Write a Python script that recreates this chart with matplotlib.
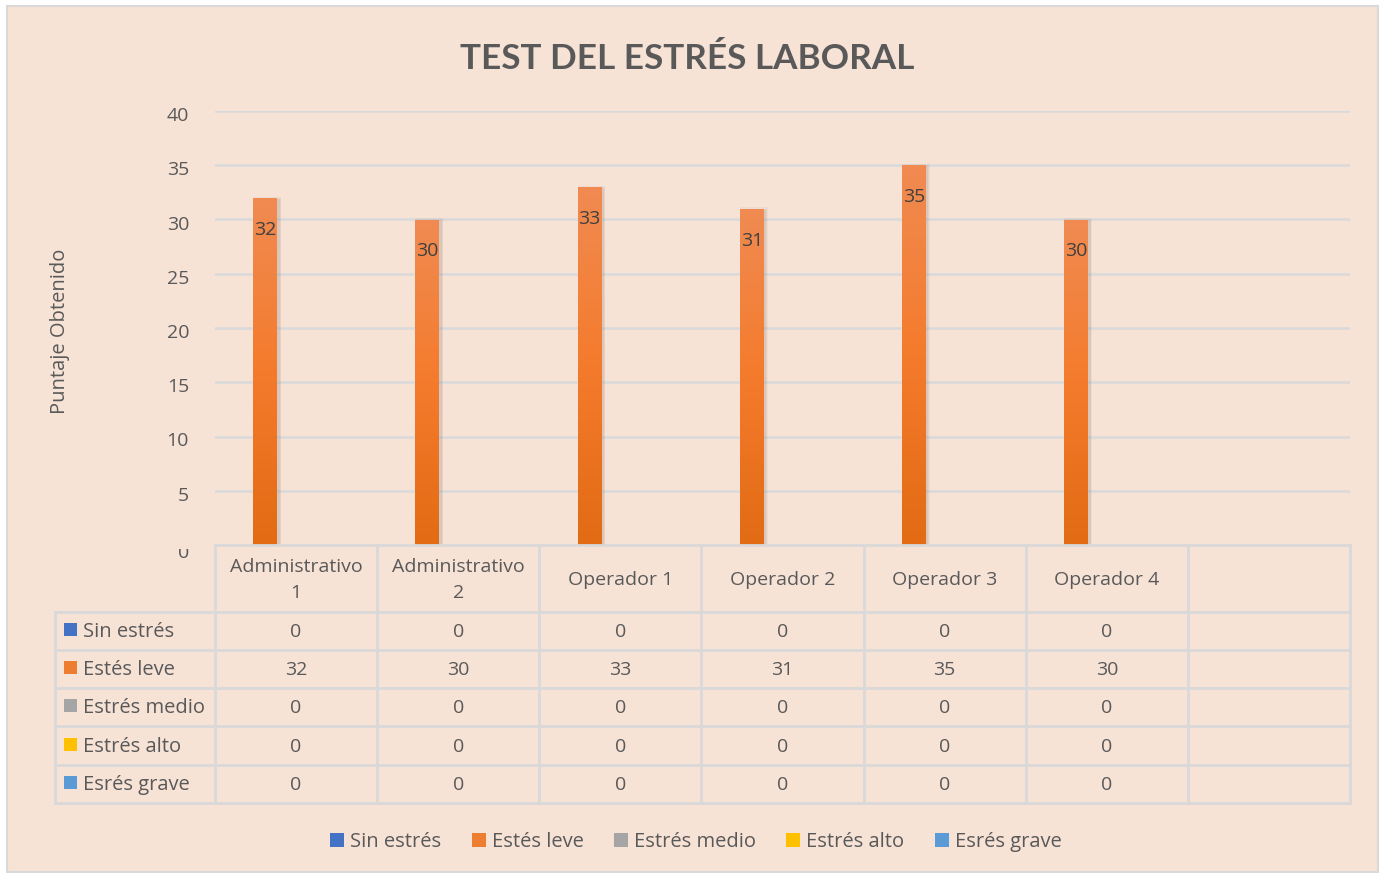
import numpy as np
import matplotlib.pyplot as plt
import matplotlib.transforms as mtransforms
from matplotlib.patches import Rectangle, Patch
from matplotlib.colors import LinearSegmentedColormap

plt.rcParams["font.family"] = ["Open Sans", "DejaVu Sans"]

# data
categories = ["Administrativo\n1", "Administrativo\n2", "Operador 1",
              "Operador 2", "Operador 3", "Operador 4", ""]
series_names = ["Sin estrés", "Estés leve", "Estrés medio", "Estrés alto", "Esrés grave"]
sin_estres = [0, 0, 0, 0, 0, 0]
estes_leve = [32, 30, 33, 31, 35, 30]
estres_medio = [0, 0, 0, 0, 0, 0]
estres_alto = [0, 0, 0, 0, 0, 0]
esres_grave = [0, 0, 0, 0, 0, 0]
all_series = [sin_estres, estes_leve, estres_medio, estres_alto, esres_grave]
series_colors = ["#4472C4", "#ED7D31", "#A5A5A5", "#FFC000", "#5B9BD5"]
yticks = [0, 5, 10, 15, 20, 25, 30, 35, 40]

BG = "#F7E2D6"
GRID = "#D9DADB"
TXT = "#595959"

W, H = 1380, 873
fig = plt.figure(figsize=(W / 100, H / 100), dpi=100)
fig.patch.set_facecolor("white")


def fx(px):
    return px / W


def fy(py):
    return 1 - py / H


# chart area background + border
fig.add_artist(Rectangle((fx(6.5), fy(871.5)), fx(1377.5) - fx(6.5), fy(5.5) - fy(871.5),
                         transform=fig.transFigure, facecolor=BG, edgecolor="#D9D9D9",
                         lw=1.5, zorder=-10))

# plot area
ax = fig.add_axes([fx(215), fy(545), fx(1350) - fx(215), fy(111) - fy(545)])
ax.set_facecolor("none")
ax.set_xlim(0, len(categories))
ax.set_ylim(0, 40)
for s in ax.spines.values():
    s.set_visible(False)
ax.set_xticks([])
ax.set_yticks([])
for v in yticks[1:]:
    ax.axhline(v, color=GRID, lw=1.8, zorder=0)

lbl_tr = mtransforms.offset_copy(ax.get_yaxis_transform(), fig=fig, x=-26, y=-5, units="dots")
zero_tr = mtransforms.offset_copy(ax.get_yaxis_transform(), fig=fig, x=-26, y=-8, units="dots")
for v in yticks:
    if v == 0:
        t = ax.text(0, v, str(v), transform=zero_tr, ha="right", va="center",
                    fontsize=14, color=TXT)
        t.set_clip_path(Rectangle((fx(150), fy(600)), fx(60), fy(549) - fy(600),
                                  transform=fig.transFigure))
        t.set_clip_on(True)
    else:
        ax.text(0, v, str(v), transform=lbl_tr, ha="right", va="center",
                fontsize=14, color=TXT, clip_on=False)

# bars (Excel-like cluster)
bar_w = 0.148
offsets = [-0.19 + (k - 1) * bar_w for k in range(len(all_series))]
orange_cmap = LinearSegmentedColormap.from_list(
    "org", ["#E26B14", "#F47B2C", "#F08B52"])
grad = np.linspace(0, 1, 256).reshape(-1, 1)
shadow_tr = mtransforms.offset_copy(ax.transData, fig=fig, x=2, y=-1, units="dots")

for k, vals in enumerate(all_series):
    xs = np.arange(len(vals)) + 0.5 + offsets[k]
    bars = ax.bar(xs, vals, width=bar_w, color="none", edgecolor="none", zorder=3)
    for b, v in zip(bars, vals):
        if v <= 0:
            continue
        x0, w = b.get_x(), b.get_width()
        for i, a in enumerate([0.10, 0.08, 0.06]):
            ax.add_patch(Rectangle((x0 - 0.004 * (i + 1), 0), w + 0.008 * (i + 1), v + 0.1 * i,
                                   transform=shadow_tr, facecolor="#7a6a60",
                                   alpha=a, edgecolor="none", zorder=2))
        im = ax.imshow(grad, extent=[x0, x0 + w, 0, v], origin="lower",
                       aspect="auto", cmap=orange_cmap, zorder=3)
        im.set_clip_path(b)
        ax.annotate(str(v), (x0 + w / 2, v), xytext=(0, -23), textcoords="offset points",
                    ha="center", va="center", fontsize=14, color="#404040", zorder=5)
ax.set_xlim(0, len(categories))
ax.set_ylim(0, 40)

# y axis title
fig.text(fx(60), fy(331), "Puntaje Obtenido", rotation=90, ha="center", va="center",
         fontsize=14.5, color=TXT)

# title
fig.text(fx(687), fy(59), "TEST DEL ESTRÉS LABORAL", ha="center", va="center",
         fontsize=25.3, fontweight="bold", color=TXT, family=["Lato", "DejaVu Sans"])

# data table
ov = fig.add_axes([0, 0, 1, 1], zorder=5)
ov.set_xlim(0, W)
ov.set_ylim(H, 0)
ov.axis("off")
ov.patch.set_visible(False)
tab = mtransforms.blended_transform_factory(ax.transData, ov.transData)
row_edges = [545, 612, 650, 688, 726, 765, 803]
ncol = len(categories)
line_kw = dict(color="#D9D9D9", lw=2, solid_capstyle="projecting")

for c in range(ncol + 1):
    ov.plot([c, c], [row_edges[0], row_edges[-1]], transform=tab, **line_kw)
ov.plot([55, 55], [row_edges[1], row_edges[-1]], **line_kw)
ov.plot([0, ncol], [row_edges[0], row_edges[0]], transform=tab, **line_kw)
for yy in row_edges[1:]:
    ov.plot([55, 215], [yy, yy], **line_kw)
    ov.plot([0, ncol], [yy, yy], transform=tab, **line_kw)

for c, cat in enumerate(categories):
    ov.text(c + 0.5, 580, cat, transform=tab, ha="center", va="center",
            fontsize=14, color=TXT, linespacing=1.5)

for r, (name, vals, col) in enumerate(zip(series_names, all_series, series_colors)):
    yc = (row_edges[r + 1] + row_edges[r + 2]) / 2 + 1
    ov.add_patch(Rectangle((64, yc - 9), 13, 13, facecolor=col, edgecolor="none"))
    ov.text(83, yc, name, ha="left", va="center", fontsize=14.5, color=TXT)
    for c, v in enumerate(vals):
        ov.text(c + 0.5, yc, str(v), transform=tab, ha="center", va="center",
                fontsize=14, color=TXT)

# legend
handles = [Patch(facecolor=c, edgecolor="none") for c in series_colors]
fig.legend(handles, series_names, loc="center", bbox_to_anchor=(fx(696), fy(842)),
           ncol=5, frameon=False, fontsize=14.5, handlelength=0.7, handleheight=0.7,
           handletextpad=0.3, columnspacing=1.5, labelcolor=TXT)

fig.savefig("out.png", dpi=100, facecolor=fig.get_facecolor())
